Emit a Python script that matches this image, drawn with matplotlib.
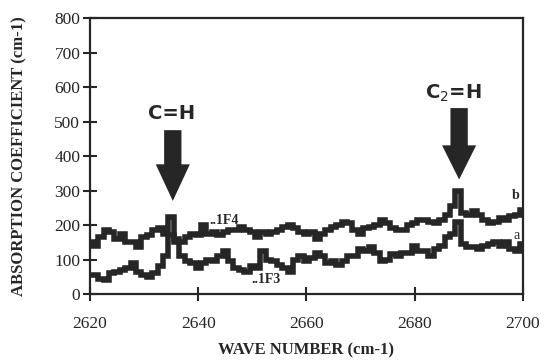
import numpy as np
import matplotlib
matplotlib.use("Agg")
import matplotlib.pyplot as plt
from matplotlib.patches import FancyArrow

# ---- data ----
wavenumber = list(range(2620, 2701))
series_b = [150, 140, 165, 185, 180, 160, 175, 150, 150, 135,
            165, 170, 185, 190, 175, 222, 160, 150, 165, 175,
            170, 200, 175, 180, 170, 180, 185, 185, 195, 185,
            180, 165, 180, 175, 180, 185, 195, 200, 190, 180,
            175, 180, 160, 175, 185, 195, 200, 210, 205, 185,
            175, 190, 195, 200, 215, 205, 190, 185, 185, 200,
            205, 215, 215, 210, 205, 215, 230, 255, 300, 235,
            230, 240, 230, 215, 205, 210, 220, 215, 225, 230, 245]
series_a = [55, 55, 45, 40, 60, 65, 70, 75, 90, 65,
            55, 50, 60, 80, 110, 170, 150, 110, 95, 90,
            75, 90, 100, 95, 110, 125, 95, 75, 70, 65,
            80, 75, 125, 100, 95, 85, 75, 65, 100, 110,
            95, 105, 120, 110, 90, 95, 85, 95, 110, 110,
            130, 125, 135, 120, 95, 100, 115, 110, 120, 120,
            140, 125, 125, 110, 130, 140, 165, 175, 210, 145,
            135, 135, 130, 140, 145, 150, 140, 150, 130, 125, 145]
x_ticks = [2620, 2640, 2660, 2680, 2700]
y_ticks = [0, 100, 200, 300, 400, 500, 600, 700, 800]

# annotation arrows: x, tip, top of shaft, start of head, label, label position
arrow_ch = dict(x=2635.3, tip=270, top=475, head=376, label="C=H",
                label_x=2635.1, label_y=522)
arrow_c2h = dict(x=2688.2, tip=332, top=539, head=431, label="C$_2$=H",
                 label_x=2687.1, label_y=582)

ink = "#262626"

fig = plt.figure(figsize=(5.45, 3.63), dpi=100)
ax = fig.add_axes([0.1651, 0.19, 0.7945, 0.7603])

ax.plot(wavenumber, series_b, drawstyle="steps-mid", color=ink, lw=4,
        solid_joinstyle="miter")
ax.plot(wavenumber, series_a, drawstyle="steps-mid", color=ink, lw=4,
        solid_joinstyle="miter")

ax.set_xlim(2620, 2700)
ax.set_ylim(0, 800)
ax.set_xticks(x_ticks)
ax.set_yticks(y_ticks)

serif = "Liberation Serif"
ax.set_xticklabels([str(t) for t in x_ticks], family=serif, fontsize=12.5)
ax.set_yticklabels([str(t) for t in y_ticks], family=serif, fontsize=12.5)
ax.tick_params(axis="x", direction="inout", length=10, width=1.5, pad=10.5, colors=ink)
ax.tick_params(axis="y", direction="inout", length=10, width=1.5, pad=2, colors=ink)
for s in ax.spines.values():
    s.set_linewidth(1.6)
    s.set_color(ink)

ax.set_xlabel("WAVE NUMBER (cm-1)", family=serif, fontweight="bold",
              fontsize=12, color=ink, labelpad=8)
ax.set_ylabel("ABSORPTION COEFFICIENT (cm-1)", family=serif, fontweight="bold",
              fontsize=12, color=ink, labelpad=19)

for a in (arrow_ch, arrow_c2h):
    length = a["top"] - a["tip"]
    ax.add_patch(FancyArrow(a["x"], a["top"], 0, -length, width=3.2,
                            head_width=6.3, head_length=a["head"] - a["tip"],
                            length_includes_head=True, color=ink, lw=0))
    ax.text(a["label_x"], a["label_y"], a["label"], ha="center", va="center",
            family="DejaVu Sans", fontweight="bold", fontsize=14, color=ink)

ax.text(2644.7, 214, "..1F4", family=serif, fontsize=10, fontweight="bold",
        color=ink, ha="center", va="center")
ax.text(2652.5, 42, "..1F3", family=serif, fontsize=10, fontweight="bold",
        color=ink, ha="center", va="center")
ax.text(2698.6, 287, "b", family=serif, fontsize=10, fontweight="bold", color=ink,
        ha="center", va="center")
ax.text(2698.9, 171, "a", family=serif, fontsize=10, color=ink, ha="center", va="center")

fig.savefig("out.png", dpi=100)
